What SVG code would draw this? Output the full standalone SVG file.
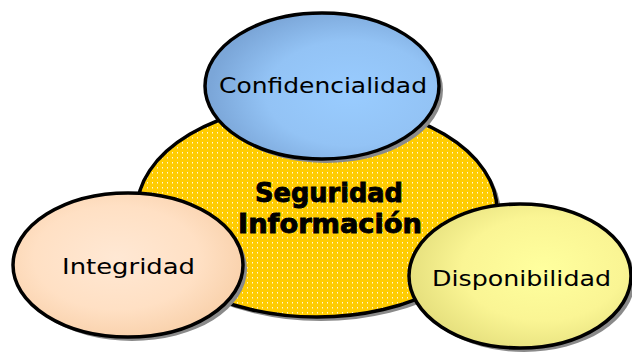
<svg xmlns="http://www.w3.org/2000/svg" width="632" height="352" viewBox="0 0 632 352">
<style>
.sh{fill:#8a8a8a}
.ol{stroke:#000;stroke-width:3.5}
.lbl{font-family:"DejaVu Sans","Liberation Sans",sans-serif;font-size:21px;fill:#000}
.ttl{font-family:"DejaVu Sans","Liberation Sans",sans-serif;font-size:27px;font-weight:bold;fill:#000;stroke:#000;stroke-width:0.9}
</style>
<defs>
<pattern id="dots" width="5" height="5" patternUnits="userSpaceOnUse">
<rect width="5" height="5" fill="#FFCC00"/>
<rect x="2" y="2" width="1" height="1.5" fill="#fff" opacity="0.85"/>
</pattern>
<radialGradient id="gBlue" cx="0.62" cy="0.55" r="0.6">
<stop offset="0" stop-color="#99CCFF"/>
<stop offset="0.6" stop-color="#93C3F5"/>
<stop offset="1" stop-color="#7BA6D8"/>
</radialGradient>
<radialGradient id="gPeach" cx="0.45" cy="0.45" r="0.6">
<stop offset="0" stop-color="#FFE8D4"/>
<stop offset="0.6" stop-color="#FFE0C4"/>
<stop offset="1" stop-color="#F8CFA8"/>
</radialGradient>
<radialGradient id="gYellow" cx="0.6" cy="0.45" r="0.6">
<stop offset="0" stop-color="#FFFF9E"/>
<stop offset="0.6" stop-color="#FAF594"/>
<stop offset="1" stop-color="#E6E07E"/>
</radialGradient>
</defs>
<g id="seguridad">
<ellipse class="sh" cx="321" cy="214" rx="180" ry="107"/>
<ellipse class="ol" cx="317" cy="210" rx="180" ry="107" fill="url(#dots)"/>
<text class="ttl" x="329" y="202" text-anchor="middle" textLength="148" lengthAdjust="spacingAndGlyphs">Seguridad</text>
<text class="ttl" x="330" y="233" text-anchor="middle" textLength="184" lengthAdjust="spacingAndGlyphs">Información</text>
</g>
<g id="confidencialidad">
<ellipse class="sh" cx="326" cy="90" rx="117" ry="73"/>
<ellipse class="ol" cx="322" cy="86" rx="117" ry="73" fill="url(#gBlue)"/>
<text class="lbl" x="323" y="93" text-anchor="middle" textLength="208" lengthAdjust="spacingAndGlyphs">Confidencialidad</text>
</g>
<g id="integridad">
<ellipse class="sh" cx="132" cy="269" rx="115" ry="72"/>
<ellipse class="ol" cx="128" cy="265" rx="115" ry="72" fill="url(#gPeach)"/>
<text class="lbl" x="128.5" y="274" text-anchor="middle" textLength="133" lengthAdjust="spacingAndGlyphs">Integridad</text>
</g>
<g id="disponibilidad">
<ellipse class="sh" cx="524" cy="280" rx="111" ry="72"/>
<ellipse class="ol" cx="520" cy="276" rx="111" ry="72" fill="url(#gYellow)"/>
<text class="lbl" x="521.5" y="286" text-anchor="middle" textLength="179" lengthAdjust="spacingAndGlyphs">Disponibilidad</text>
</g>
<g id="connectors"/>
</svg>
